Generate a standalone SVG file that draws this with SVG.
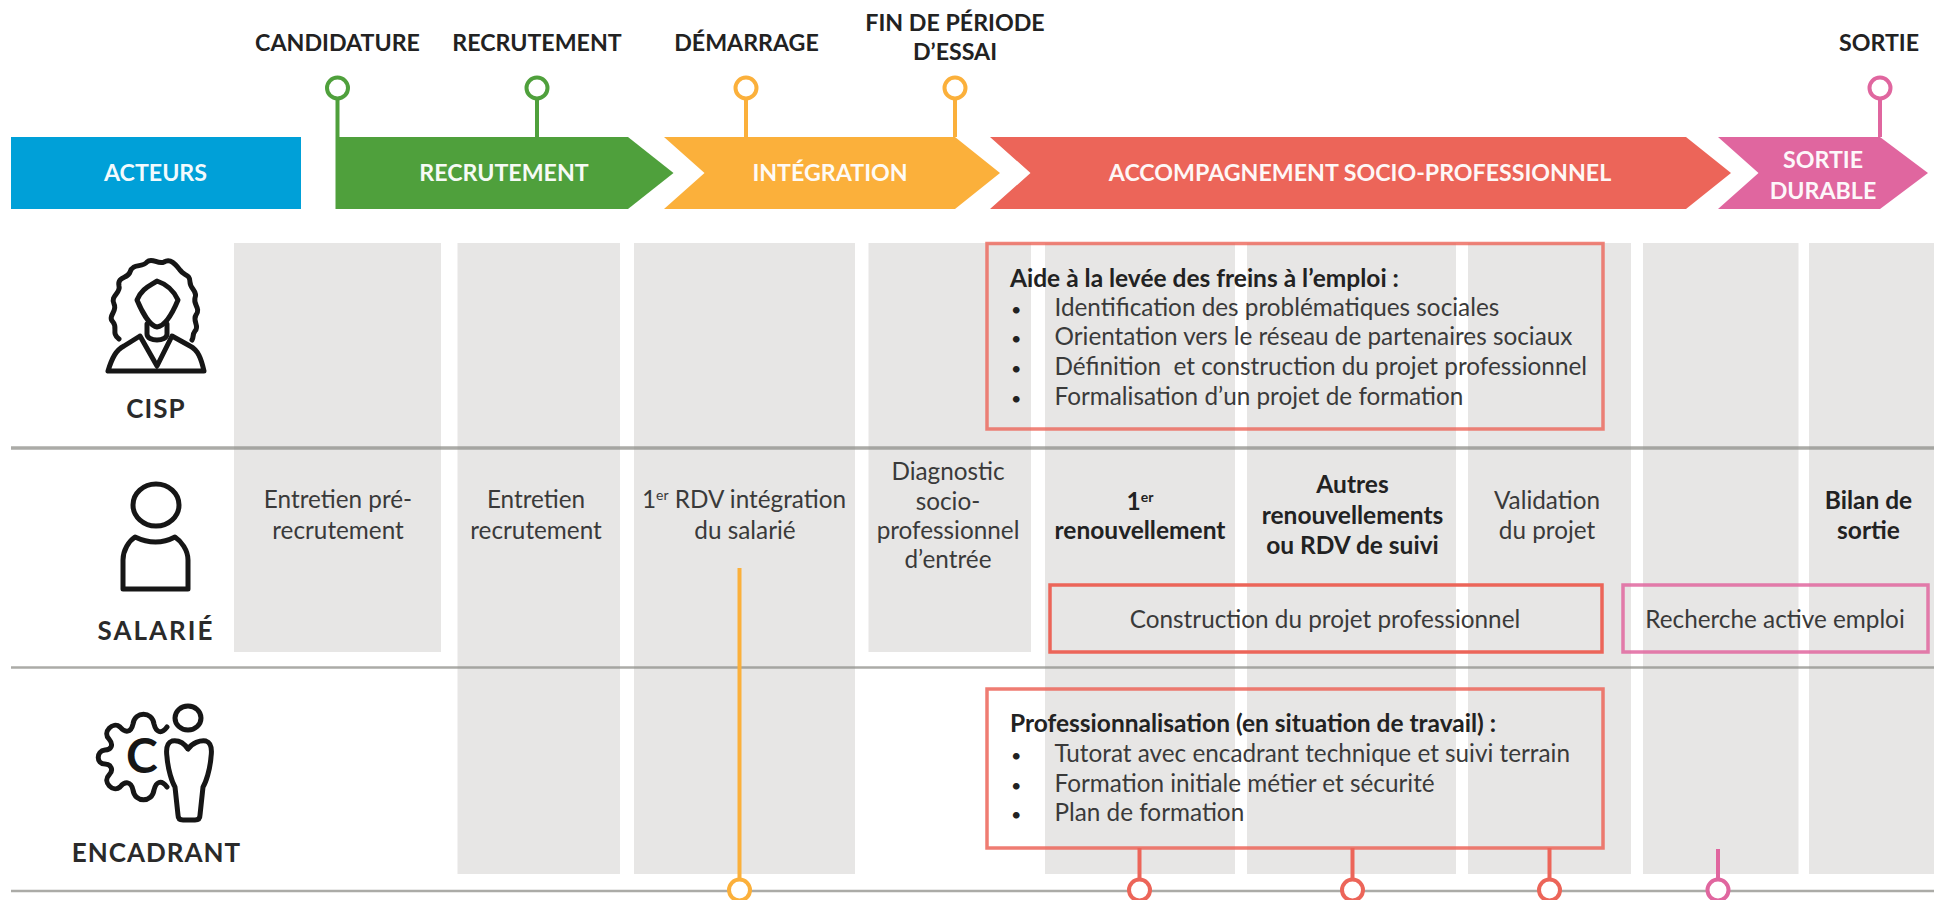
<svg xmlns="http://www.w3.org/2000/svg" width="1934" height="900" viewBox="0 0 1934 900">
<style>
text{font-family:Lato,"Liberation Sans",sans-serif;fill:#3a3a3a;font-size:24.300px}
.c{text-anchor:middle}
.b{font-weight:700;fill:#222;font-size:24.500px}
.cap{font-weight:700;font-size:23.200px;fill:#222;text-anchor:middle}
.w{font-weight:700;font-size:23.200px;fill:#fff;text-anchor:middle;opacity:.95}
.act{font-weight:700;font-size:26px;fill:#2a2a2a;text-anchor:middle;letter-spacing:1px}
.dot{font-size:18px;fill:#222}
.col{fill:#e7e6e5}
.rule{stroke:#8f8f8a;stroke-opacity:.75;fill:none}
.bx{fill:none;stroke-width:3.500}
.ic{fill:none;stroke:#161616;stroke-width:5;stroke-linejoin:round;stroke-linecap:round}
.pin{fill:#fff;stroke-width:4}
.ln{fill:none;stroke-width:4}
.gr{stroke:#4fa03c}.or{stroke:#fbb03b}.rd{stroke:#ec6559}.pk{stroke:#e0669f}
</style>
<rect width="1934" height="900" fill="#fff"/>
<g id="columns">
<rect class="col" x="234" y="243" width="207" height="409"/>
<rect class="col" x="457.500" y="243" width="162.500" height="631"/>
<rect class="col" x="634" y="243" width="221" height="631"/>
<rect class="col" x="868.500" y="243" width="162.500" height="409"/>
<rect class="col" x="1045" y="243" width="190" height="631"/>
<rect class="col" x="1247" y="243" width="209" height="631"/>
<rect class="col" x="1468" y="243" width="163" height="631"/>
<rect class="col" x="1643" y="243" width="155.500" height="631"/>
<rect class="col" x="1809" y="243" width="125" height="631"/>
</g>
<g id="rules">
<line class="rule" x1="11" y1="448" x2="1934" y2="448" stroke-width="3.500"/>
<line class="rule" x1="11" y1="667.500" x2="1934" y2="667.500" stroke-width="2.500"/>
<line class="rule" x1="11" y1="891" x2="1934" y2="891" stroke-width="2.500"/>
</g>
<g id="phase-acteurs"><rect x="11" y="137" width="290" height="72" fill="#00a0d8"/><text class="w" x="155.500" y="181">ACTEURS</text></g>
<g id="phase-recrutement"><polygon points="335.500,137 628,137 673.500,173 628,209 335.500,209" fill="#4fa03c"/><text class="w" x="504" y="181">RECRUTEMENT</text></g>
<g id="phase-integration"><polygon points="664,137 955,137 1000,173 955,209 664,209 704.500,173" fill="#fbb03b"/><text class="w" x="830" y="181">INTÉGRATION</text></g>
<g id="phase-accompagnement"><polygon points="990,137 1686,137 1731,173 1686,209 990,209 1030.500,173" fill="#ec6559"/><text class="w" x="1360" y="181">ACCOMPAGNEMENT SOCIO-PROFESSIONNEL</text></g>
<g id="phase-sortie"><polygon points="1718,137 1880,137 1928,173 1880,209 1718,209 1758.500,173" fill="#e0669f"/><text class="w" x="1823" y="168">SORTIE</text><text class="w" x="1823" y="199">DURABLE</text></g>
<g id="connectors">
<line class="ln gr" x1="337.500" y1="100" x2="337.500" y2="137"/>
<line class="ln gr" x1="537" y1="100" x2="537" y2="137"/>
<line class="ln or" x1="746" y1="100" x2="746" y2="137"/>
<line class="ln or" x1="955" y1="100" x2="955" y2="137"/>
<line class="ln pk" x1="1880" y1="100" x2="1880" y2="137"/>
<line class="ln or" x1="739.500" y1="568" x2="739.500" y2="880"/>
<line class="ln rd" x1="1139.500" y1="848" x2="1139.500" y2="880"/>
<line class="ln rd" x1="1352.500" y1="848" x2="1352.500" y2="880"/>
<line class="ln rd" x1="1549.500" y1="848" x2="1549.500" y2="880"/>
<line class="ln pk" x1="1718" y1="849" x2="1718" y2="880"/>
</g>
<g id="milestone-candidature"><circle class="pin gr" cx="337.500" cy="88" r="10.500"/><text class="cap" x="337.500" y="51">CANDIDATURE</text></g>
<g id="milestone-recrutement"><circle class="pin gr" cx="537" cy="88" r="10.500"/><text class="cap" x="537" y="51">RECRUTEMENT</text></g>
<g id="milestone-demarrage"><circle class="pin or" cx="746" cy="88" r="10.500"/><text class="cap" x="746.500" y="51">DÉMARRAGE</text></g>
<g id="milestone-essai"><circle class="pin or" cx="955" cy="88" r="10.500"/><text class="cap" x="955" y="31">FIN DE PÉRIODE</text><text class="cap" x="955" y="60">D’ESSAI</text></g>
<g id="milestone-sortie"><circle class="pin pk" cx="1880" cy="88" r="10.500"/><text class="cap" x="1879" y="51">SORTIE</text></g>
<g id="pin-integration"><circle class="pin or" cx="739.500" cy="890" r="10.500"/></g>
<g id="pin-renouvellement"><circle class="pin rd" cx="1139.500" cy="890" r="10.500"/></g>
<g id="pin-autres"><circle class="pin rd" cx="1352.500" cy="890" r="10.500"/></g>
<g id="pin-validation"><circle class="pin rd" cx="1549.500" cy="890" r="10.500"/></g>
<g id="pin-emploi"><circle class="pin pk" cx="1718" cy="890" r="10.500"/></g>
<g id="actor-cisp">
<path class="ic" d="M119 339C111 333 118 328 113 322C107 316 118 311 114 304C110 296 121 293 119 286C117 276 128 279 130 272C133 263 142 268 147 262C152 257 158 265 164 262C171 258 176 265 180 270C184 276 190 274 190 282C190 289 198 291 195 298C193 305 201 308 196 315C192 321 200 326 195 331C192 335 194 337 192 340"/>
<path class="ic" d="M157 281C150 286 142 288 137 300C142 312 150 326 157 327C166 326 173 312 178 300C174 291 166 284 157 281Z"/>
<path class="ic" d="M147 324V334C147 342 167 342 167 334V324"/>
<path class="ic" d="M108 371H204C201 358 198 350 190 346L172 336L157 366L140 336L124 346C116 350 112 358 108 371Z"/>
<text class="act" x="156" y="418">CISP</text>
</g>
<g id="actor-salarie">
<ellipse class="ic" cx="156" cy="505" rx="23" ry="21"/>
<path class="ic" d="M123 589H188V560C188 550 181 541 175 537Q156 547 135 537C129 541 123 550 123 560Z"/>
<text class="act" x="156" y="640" style="letter-spacing:2px">SALARIÉ</text>
</g>
<g id="actor-encadrant">
<ellipse class="ic" cx="188" cy="718" rx="13" ry="12"/>
<path class="ic" d="M188 749C184 743 178 740 172 741C166 743 166 750 167 757C168 770 172 782 175 787L178 815Q178 820 183 820H195Q200 820 200 815L203 787C206 782 210 770 211 757C212 750 212 743 206 741C200 740 192 743 188 749Z"/>
<path class="ic" d="M167 727C161 735 156 732 154 724C152 711 135 711 133 724C131 733 125 733 120 727C113 721 102 732 109 739C114 745 111 750 105 750C96 751 96 764 105 764C111 764 114 770 109 775C102 782 113 793 120 787C125 781 131 781 133 790C135 803 152 803 154 790C156 782 161 779 167 787"/>
<text x="142" y="773" class="c" style="font-size:48px;fill:#161616;font-weight:700">C</text>
<text class="act" x="156.500" y="862">ENCADRANT</text>
</g>
<g id="step-preentretien"><text class="c" x="338" y="508">Entretien pré-</text><text class="c" x="338" y="539">recrutement</text></g>
<g id="step-entretien"><text class="c" x="536" y="508">Entretien</text><text class="c" x="536" y="539">recrutement</text></g>
<g id="step-rdv"><text class="c" x="744" y="508">1<tspan font-size="14" dy="-8">er</tspan><tspan dy="8"> RDV intégration</tspan></text><text class="c" x="745" y="539">du salarié</text></g>
<g id="step-diagnostic"><text class="c" x="948" y="480">Diagnostic</text><text class="c" x="948" y="510">socio-</text><text class="c" x="948" y="539">professionnel</text><text class="c" x="948" y="568">d’entrée</text></g>
<g id="step-renouvellement"><text class="c b" x="1140" y="510">1<tspan font-size="14" dy="-8">er</tspan></text><text class="c b" x="1140" y="539">renouvellement</text></g>
<g id="step-autres"><text class="c b" x="1352.500" y="493">Autres</text><text class="c b" x="1352.500" y="524">renouvellements</text><text class="c b" x="1352.500" y="554">ou RDV de suivi</text></g>
<g id="step-validation"><text class="c" x="1547" y="509">Validation</text><text class="c" x="1547" y="539">du projet</text></g>
<g id="step-bilan"><text class="c b" x="1868.500" y="509">Bilan de</text><text class="c b" x="1868.500" y="539">sortie</text></g>
<g id="box-freins">
<rect class="bx rd" x="987" y="243.500" width="616" height="185.500" stroke-opacity=".8"/>
<text class="b" x="1010" y="287">Aide à la levée des freins à l’emploi :</text>
<text class="dot" x="1011" y="316">•</text><text x="1054.500" y="316">Identification des problématiques sociales</text>
<text class="dot" x="1011" y="345">•</text><text x="1054.500" y="345">Orientation vers le réseau de partenaires sociaux</text>
<text class="dot" x="1011" y="375">•</text><text x="1054.500" y="375" xml:space="preserve">Définition  et construction du projet professionnel</text>
<text class="dot" x="1011" y="405">•</text><text x="1054.500" y="405">Formalisation d’un projet de formation</text>
</g>
<g id="box-construction"><rect class="bx rd" x="1050" y="585" width="552" height="67"/><text class="c" x="1325" y="628">Construction du projet professionnel</text></g>
<g id="box-recherche"><rect class="bx pk" x="1623" y="585" width="305" height="67" stroke-opacity=".85"/><text class="c" x="1775" y="628">Recherche active emploi</text></g>
<g id="box-professionnalisation">
<rect class="bx rd" x="987" y="689" width="616" height="159" stroke-opacity=".85"/>
<text class="b" x="1010" y="732">Professionnalisation (en situation de travail) :</text>
<text class="dot" x="1011" y="762">•</text><text x="1054.500" y="762">Tutorat avec encadrant technique et suivi terrain</text>
<text class="dot" x="1011" y="792">•</text><text x="1054.500" y="792">Formation initiale métier et sécurité</text>
<text class="dot" x="1011" y="821">•</text><text x="1054.500" y="821">Plan de formation</text>
</g>
</svg>
